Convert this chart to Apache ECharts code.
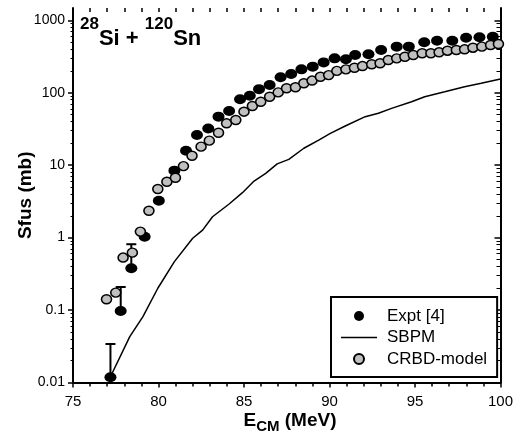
<!DOCTYPE html>
<html><head><meta charset="utf-8">
<script src="https://cdn.jsdelivr.net/npm/echarts@6/dist/echarts.min.js"></script>
<style>html,body{margin:0;padding:0;background:#fff}#c{width:516px;height:442px}</style>
</head><body><div id="c"></div>
<script>
// Expt [4]
const exptE = [77.19, 77.79, 78.41, 79.19, 80.02, 80.93, 81.61, 82.25, 82.91, 83.51, 84.13, 84.77, 85.34, 85.88, 86.5, 87.14, 87.76, 88.36, 89.02, 89.66, 90.30, 90.96, 91.5, 92.28, 93.02, 93.93, 94.64, 95.54, 96.29, 97.18, 97.99, 98.77, 99.55];
const exptS = [0.0118, 0.097, 0.377, 1.03, 3.23, 8.4, 15.8, 26, 32, 46.7, 55.9, 81, 91, 112, 128, 163, 181, 210, 229, 262, 298, 289, 331, 339, 388, 432, 432, 496, 522, 522, 574, 581, 593];
// upper error bars of the lowest Expt points
const errE = [77.19, 77.79, 78.41];
const errLow = [0.0118, 0.097, 0.377];
const errHigh = [0.034, 0.208, 0.81];
// SBPM
const sbpmE = [77.19, 78.32, 79.09, 79.96, 80.93, 82.0, 82.58, 83.16, 84.13, 84.91, 85.59, 86.27, 86.94, 87.62, 88.5, 89.37, 90.05, 90.92, 92.09, 92.86, 93.63, 94.8, 95.57, 96.74, 97.9, 98.87, 100];
const sbpmS = [0.012, 0.043, 0.081, 0.2, 0.466, 0.98, 1.27, 1.94, 2.91, 4.17, 6.04, 7.7, 10.4, 12, 17.1, 22.2, 27.5, 34.7, 46.7, 52, 60.8, 75, 88, 103, 121, 135, 155];
// CRBD-model
const crbdE = [76.96, 77.5, 77.93, 78.47, 78.94, 79.44, 79.96, 80.49, 80.99, 81.46, 81.96, 82.49, 82.97, 83.51, 83.98, 84.52, 85.0, 85.49, 85.98, 86.5, 87.0, 87.49, 88.01, 88.5, 88.98, 89.47, 89.95, 90.43, 90.96, 91.46, 91.93, 92.47, 92.96, 93.44, 93.93, 94.41, 94.9, 95.42, 95.93, 96.41, 96.9, 97.42, 97.9, 98.39, 98.91, 99.42, 99.88];
const crbdS = [0.141, 0.174, 0.53, 0.62, 1.21, 2.35, 4.69, 5.9, 6.7, 9.7, 13.5, 18, 21.8, 28, 37.8, 42, 54.7, 65.5, 75, 88, 101, 115, 119, 135, 147, 166, 175, 200, 210, 221, 233, 247, 255, 283, 298, 314, 331, 350, 350, 361, 380, 388, 397, 418, 432, 455, 470];
// axis ticks
const yMajor = [0.01, 0.1, 1, 10, 100, 1000];
const yMinor = [];
[0.01, 0.1, 1, 10, 100].forEach(d => { for (let k = 2; k <= 9; k++) yMinor.push(+(d * k).toPrecision(3)); });
const xMin = 75, xMax = 100, yMin = 0.01, yMax = 1476;

const zip = (a, b) => a.map((v, i) => [v, b[i]]);
const FONT = '"Liberation Sans", Arial, sans-serif';

const chart = echarts.init(document.getElementById('c'), null, {renderer: 'canvas'});
const baseY = {type: 'log', logBase: 10, min: yMin, max: yMax, splitLine: {show: false}, minorTick: {show: false}};
chart.setOption({
  animation: false,
  backgroundColor: '#fff',
  grid: {left: 73, right: 13.3, top: 8, bottom: 59.5},
  xAxis: [
    {type: 'value', min: xMin, max: xMax, interval: 5, position: 'bottom',
      axisLine: {show: true, onZero: false, lineStyle: {color: '#000', width: 2}},
      axisTick: {show: true, length: 5, lineStyle: {color: '#000', width: 1.5}},
      minorTick: {show: true, splitNumber: 5, length: 4, lineStyle: {color: '#000', width: 1.5}},
      axisLabel: {color: '#000', fontSize: 15, fontFamily: FONT, margin: 12},
      splitLine: {show: false}},
    {type: 'value', min: xMin, max: xMax, interval: 1, position: 'top',
      axisLine: {show: false, onZero: false},
      axisTick: {show: true, inside: true, length: 4, lineStyle: {color: '#000', width: 1.5}},
      axisLabel: {show: false}, splitLine: {show: false}}
  ],
  yAxis: [
    Object.assign({}, baseY, {position: 'left',
      axisLine: {show: true, onZero: false, lineStyle: {color: '#000', width: 2}},
      axisTick: {show: true, length: 5, customValues: yMajor, lineStyle: {color: '#000', width: 1.5}},
      axisLabel: {customValues: yMajor, color: '#000', fontSize: 14, fontFamily: FONT, margin: 8,
        formatter: v => String(v)},
      name: 'Sfus (mb)', nameLocation: 'middle', nameGap: 38, nameMoveOverlap: false,
      nameTextStyle: {color: '#000', fontSize: 19, fontWeight: 'bold', fontFamily: FONT}}),
    Object.assign({}, baseY, {position: 'left',
      axisLine: {show: false, onZero: false},
      axisTick: {show: true, length: 2.5, customValues: yMinor, lineStyle: {color: '#000', width: 1}},
      axisLabel: {show: false}}),
    Object.assign({}, baseY, {position: 'right',
      axisLine: {show: true, onZero: false, lineStyle: {color: '#000', width: 2}},
      axisTick: {show: true, inside: true, length: 6, customValues: yMajor, lineStyle: {color: '#000', width: 1.5}},
      axisLabel: {show: false}}),
    Object.assign({}, baseY, {position: 'right',
      axisLine: {show: false, onZero: false},
      axisTick: {show: true, inside: true, length: 4, customValues: yMinor, lineStyle: {color: '#000', width: 1}},
      axisLabel: {show: false}})
  ],
  legend: {
    orient: 'vertical', left: 331, top: 297,
    padding: [10.5, 10, 9.5, 10],
    itemWidth: 36, itemHeight: 10, itemGap: 4.5,
    borderColor: '#000', borderWidth: 2, borderRadius: 0, backgroundColor: '#fff',
    textStyle: {color: '#000', fontSize: 17, fontFamily: FONT, padding: [0, 0, 0, 5]},
    data: ['Expt [4]', {name: 'SBPM', icon: 'path://M0,0H36V1.6H0Z'}, 'CRBD-model']
  },
  graphic: [
    {type: 'text', left: 80, top: 16, z: 10,
      style: {text: '{s|28}{m|Si + }{s|120}{m|Sn}', fill: '#000', fontFamily: FONT,
        rich: {
          s: {fontSize: 17, fontWeight: 'bold', fontFamily: FONT, fill: '#000', padding: [0, 0, 17, 0], verticalAlign: 'top'},
          m: {fontSize: 22, fontWeight: 'bold', fontFamily: FONT, fill: '#000', verticalAlign: 'bottom'}
        }}},
    {type: 'text', x: 290, y: 411, z: 10,
      style: {text: '{e|E}{c|CM}{e| (MeV)}', fill: '#000', fontFamily: FONT, align: 'center', verticalAlign: 'top',
        rich: {
          e: {fontSize: 19, fontWeight: 'bold', fontFamily: FONT, fill: '#000', verticalAlign: 'top'},
          c: {fontSize: 15, fontWeight: 'bold', fontFamily: FONT, fill: '#000', padding: [8, 0, 0, 0], verticalAlign: 'top'}
        }}}
  ],
  series: [
    {name: 'SBPM', type: 'line', data: zip(sbpmE, sbpmS), showSymbol: false, symbol: 'none',
      lineStyle: {color: '#000', width: 1.5}, itemStyle: {color: '#000'}, z: 2},
    {name: 'err', type: 'custom', data: errE.map((e, i) => [e, errLow[i], errHigh[i]]), z: 3,
      renderItem: (params, api) => {
        const p0 = api.coord([api.value(0), api.value(1)]);
        const p1 = api.coord([api.value(0), api.value(2)]);
        const st = {stroke: '#000', lineWidth: 2};
        return {type: 'group', children: [
          {type: 'line', shape: {x1: p0[0], y1: p0[1], x2: p1[0], y2: p1[1]}, style: st},
          {type: 'line', shape: {x1: p1[0] - 5, y1: p1[1], x2: p1[0] + 5, y2: p1[1]}, style: st}
        ]};
      }},
    {name: 'Expt [4]', type: 'scatter', data: zip(exptE, exptS), symbol: 'circle', symbolSize: [12, 10],
      itemStyle: {color: '#000', opacity: 1}, z: 4},
    {name: 'CRBD-model', type: 'scatter', data: zip(crbdE, crbdS), symbol: 'circle', symbolSize: [10, 9],
      itemStyle: {color: '#c0c0c0', borderColor: '#000', borderWidth: 1.5, opacity: 1}, z: 5}
  ]
});
</script></body></html>
